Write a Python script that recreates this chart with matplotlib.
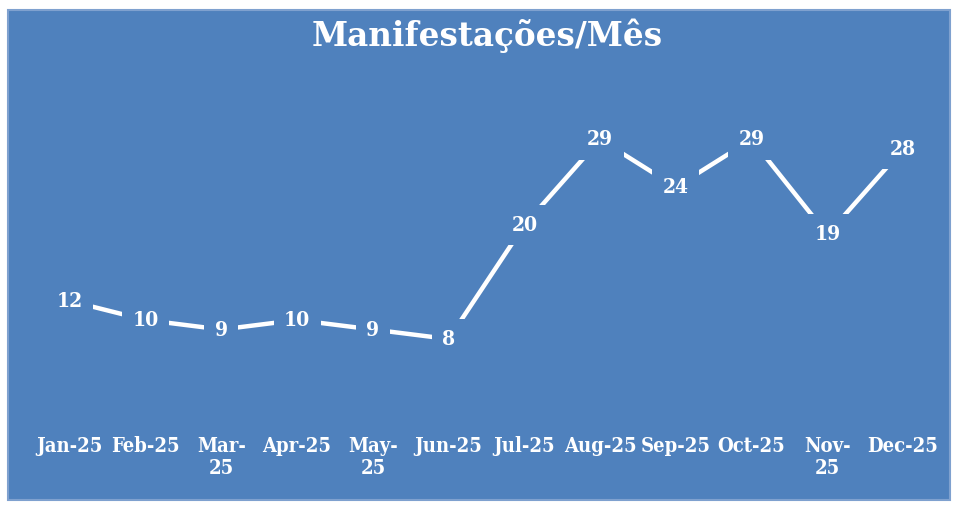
import matplotlib.pyplot as plt
from matplotlib.patches import Rectangle

BLUE = "#4f81bd"
EDGE = "#7fa1cf"
WHITE = "#ffffff"

months = ["Jan-25", "Feb-25", "Mar-\n25", "Apr-25", "May-\n25", "Jun-25",
          "Jul-25", "Aug-25", "Sep-25", "Oct-25", "Nov-\n25", "Dec-25"]
counts = [12, 10, 9, 10, 9, 8, 20, 29, 24, 29, 19, 28]

plt.rcParams["font.family"] = ["DejaVu Serif"]
LABEL_FONT = dict(family="DejaVu Serif", stretch="condensed", weight="bold")

fig = plt.figure(figsize=(9.56, 5.05), dpi=100, facecolor="white")
fig.patches.append(Rectangle((8 / 956, 5 / 505), 942 / 956, 490 / 505,
                             transform=fig.transFigure, facecolor=BLUE,
                             edgecolor=EDGE, linewidth=1.5, zorder=0))

ax = fig.add_axes([32 / 956, 90 / 505, 909 / 956, 332.5 / 505])
ax.set_zorder(2)
ax.set_facecolor("none")

x = list(range(len(months)))
ax.plot(x, counts, color=WHITE, linewidth=3.2, solid_capstyle="butt", zorder=2)

for xi, v in zip(x, counts):
    ax.text(xi, v, str(v), ha="center", va="center", fontsize=15,
            color=WHITE, zorder=3, **LABEL_FONT,
            bbox=dict(boxstyle="square,pad=0.5", facecolor=BLUE,
                      edgecolor="none"))

ax.set_xlim(-0.5, len(months) - 0.5)
ax.set_ylim(0, 35)
ax.set_xticks(x, labels=months)
ax.set_yticks([])
ax.tick_params(axis="x", length=0, pad=15, colors=WHITE)
for lbl in ax.get_xticklabels():
    lbl.set_fontproperties(LABEL_FONT)
    lbl.set_fontsize(14.5)
    lbl.set_linespacing(1.15)
for sp in ax.spines.values():
    sp.set_visible(False)

fig.text(487 / 956, 1 - 36 / 505, "Manifestações/Mês", ha="center",
         va="center", fontsize=23.5, fontweight="bold", color=WHITE,
         zorder=3)

fig.savefig("out.png", dpi=100, facecolor="white")
